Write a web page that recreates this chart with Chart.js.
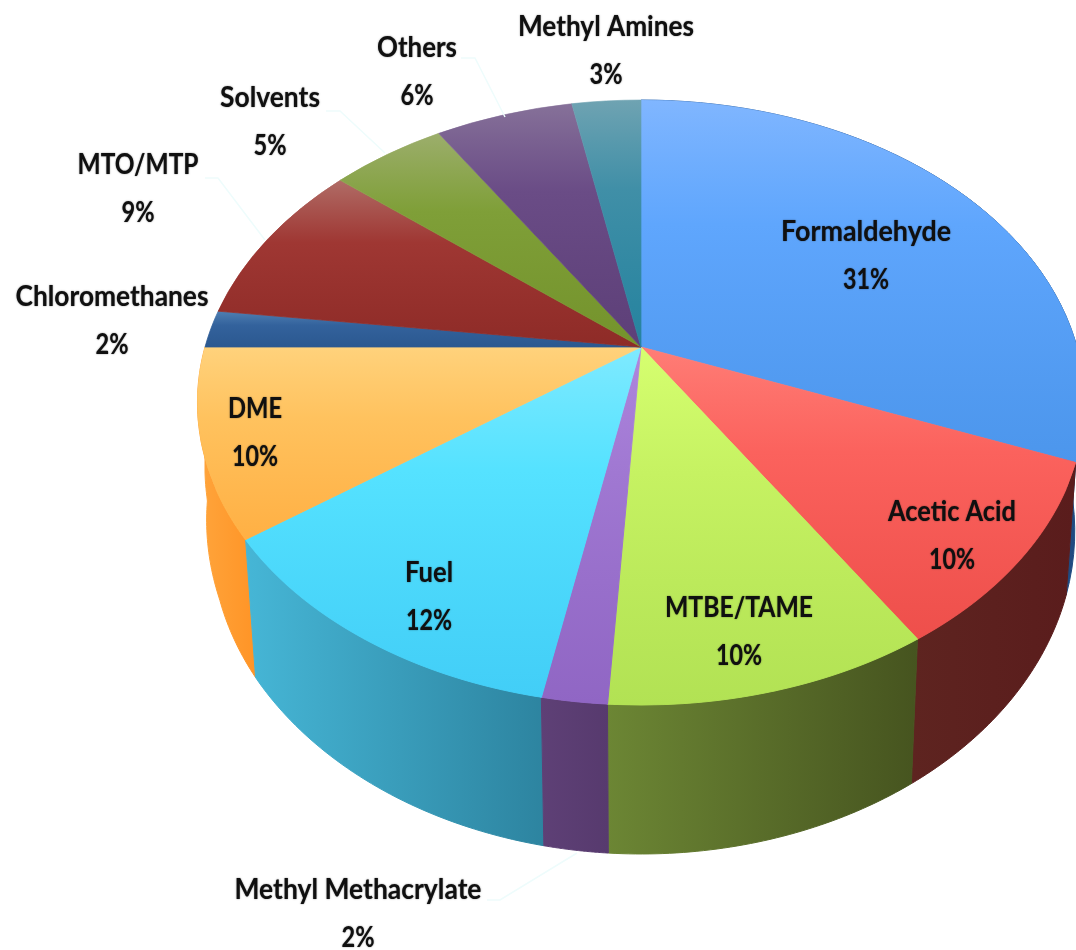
<!DOCTYPE html>
<html><head><meta charset="utf-8">
<style>html,body{margin:0;padding:0;background:#fff;overflow:hidden}canvas{display:block}</style>
<script src="https://cdn.jsdelivr.net/npm/chart.js@4/dist/chart.umd.js"></script>
</head><body>
<canvas id="c" width="1076" height="950"></canvas>
<script>
const categories = ["Formaldehyde","Acetic Acid","MTBE/TAME","Methyl Methacrylate","Fuel","DME","Chloromethanes","MTO/MTP","Solvents","Others","Methyl Amines"];
const shares = [31,10,10,2,12,10,2,9,5,6,3];

const topColors = [
  ["#80b6ff","#5fa6fd","#4c96ec"],["#ff7d76","#fb625d","#ee4f4b"],["#d6ff70","#c6f262","#b2e254"],
  ["#ae86de","#a078d2","#9066c4"],["#7feaff","#55e2ff","#42cef7"],["#ffd27c","#ffc25e","#ffb044"],
  ["#4f7fb2","#33629c","#2b5890"],["#b06c66","#9f3733","#8e2b27"],["#9cae6c","#7f9f38","#74932c"],
  ["#867199","#6a4c86","#5d3f78"],["#6fa3b2","#408fa7","#25839f"]
];
const wallColors = [
  ["#2b5f9c","#1f4a80"],["#5e2420","#5a1c1c"],["#6c8634","#46541f"],["#5e4076","#573a6e"],
  ["#46b6d6","#2d84a0"],["#ffa53c","#ff9426"],["#24466f","#24466f"],["#6e1f1c","#6e1f1c"],
  ["#556e20","#556e20"],["#46305c","#46305c"],["#1d6378","#1d6378"]
];
const labelBoxes = [[866,232],[952,512],[739,608],[358,890],[429,573],[255,409],[112,297],[138,165],[270,98],[417,48],[606,27]];
const labelWidths = [170,128,148,247,48,54,193,121,100,80,176];
const leaders = [[[461,58],[475,58],[505,117]],[[326,111],[340,111],[385,153]],[[205,178],[218,178],[265,240]],[[487,900],[500,900],[577,853]]];

// perspective of the pie's disc
const APEX_X = 641, APEX_Y = 347, P = -0.1835, A = 436, C = 292.3;
const projectTop = (u,v)=>{const w=1+P*v;return [APEX_X+A*u/w, APEX_Y+C*v/w];};
const baseScale = (u,v)=>{
  if(u>0) return 0.978;
  if(v<=0) return 1;
  if(v<0.09) return 1-0.018*v/0.09;
  if(v<0.38) return 0.982-0.01*(v-0.09)/0.29;
  return Math.min(0.975,0.972+0.003*(v-0.38)/0.22);
};
const projectBase = (u,v)=>{const w=1+P*v;return [APEX_X+baseScale(u,v)*A*u/w, APEX_Y+125+1.067*C*v/w];};
const vOfY = Y => Y/(C-P*Y);

const pie3d = {
  id:'pie3d',
  beforeDatasetDraw(chart,args){
    const ctx = chart.ctx, arcs = args.meta.data, W = chart.width;
    const cx = arcs[0].x, cy = arcs[0].y, R = arcs[0].outerRadius;

    // side wall, back to front; slices wholly at the back have no visible wall
    const order = arcs.map((a,i)=>i)
      .filter(i=>Math.max(Math.sin(arcs[i].startAngle),Math.sin(arcs[i].endAngle))>0.001)
      .sort((p,q)=>Math.sin((arcs[p].startAngle+arcs[p].endAngle)/2)-Math.sin((arcs[q].startAngle+arcs[q].endAngle)/2));
    for(const i of order){
      const a = arcs[i], top=[], base=[], n=48;
      for(let k=0;k<=n;k++){
        const t=a.startAngle+(a.endAngle-a.startAngle)*k/n, u=Math.cos(t), v=Math.sin(t);
        top.push(projectTop(u,v)); base.push(projectBase(u,v));
      }
      const xs = top.concat(base).map(p=>p[0]);
      const g = ctx.createLinearGradient(Math.min(...xs),0,Math.max(...xs),0);
      g.addColorStop(0, wallColors[i][0]);
      g.addColorStop(1, wallColors[i][1]);
      ctx.beginPath();
      top.forEach((p,k)=>k?ctx.lineTo(p[0],p[1]):ctx.moveTo(p[0],p[1]));
      base.reverse().forEach(p=>ctx.lineTo(p[0],p[1]));
      ctx.closePath();
      ctx.fillStyle=g; ctx.strokeStyle=g; ctx.lineWidth=1;
      ctx.fill(); ctx.stroke();
    }

    // top face gradient per slice, in the library's own arc coordinates
    arcs.forEach((a,i)=>{
      let vs=[0,Math.sin(a.startAngle),Math.sin(a.endAngle)];
      for(const q of [-Math.PI/2,Math.PI/2,3*Math.PI/2]) if(a.startAngle<=q&&q<=a.endAngle) vs.push(Math.sin(q));
      const g=ctx.createLinearGradient(0,cy+Math.min(...vs)*R,0,cy+Math.max(...vs)*R);
      g.addColorStop(0,topColors[i][0]); g.addColorStop(0.4,topColors[i][1]); g.addColorStop(1,topColors[i][2]);
      a.options={backgroundColor:g,borderColor:g,borderWidth:1,borderAlign:'center',borderJoinStyle:'round',
        borderRadius:0,offset:0,spacing:0,circular:true,borderDash:[],borderDashOffset:0};
    });

    // each screen row shows the flat pie through its own scale, giving the perspective
    for(let row=APEX_Y-250;row<APEX_Y+362;row++){
      const v0=vOfY(row-APEX_Y), v1=vOfY(row+1-APEX_Y), vm=(v0+v1)/2, w=1+P*vm;
      ctx.save();
      ctx.beginPath(); ctx.rect(0,row,W,1); ctx.clip();
      const sx=(A/w)/R, sy=1/(R*(v1-v0));
      ctx.transform(sx,0,0,sy,APEX_X-cx*sx,row-(cy+v0*R)*sy);
      for(const a of arcs) a.draw(ctx);
      ctx.restore();
    }
    return false;
  },
  afterDatasetsDraw(chart){
    const ctx=chart.ctx;
    ctx.save();
    ctx.strokeStyle='#eefcfc'; ctx.lineWidth=1.5;
    for(const l of leaders){
      ctx.beginPath(); l.forEach((p,k)=>k?ctx.lineTo(p[0],p[1]):ctx.moveTo(p[0],p[1])); ctx.stroke();
    }
    ctx.fillStyle='#101010'; ctx.textAlign='center'; ctx.textBaseline='middle';
    ctx.shadowColor='rgba(0,0,0,0.55)'; ctx.shadowBlur=1.5;
    ctx.font='700 29px Lato';
    categories.forEach((name,i)=>{
      const [x,y]=labelBoxes[i];
      ctx.fillText(name,x,y,labelWidths[i]);
      const pct=shares[i]+'%';
      ctx.fillText(pct,x,y+48,pct.length>2?46:33);
    });
    ctx.restore();
  }
};

new Chart(document.getElementById('c'),{
  type:'pie',
  data:{labels:categories,datasets:[{data:shares,borderWidth:0}]},
  options:{responsive:false,animation:false,events:[],
    plugins:{legend:{display:false},tooltip:{enabled:false}}},
  plugins:[pie3d]
});
</script>
</body></html>
